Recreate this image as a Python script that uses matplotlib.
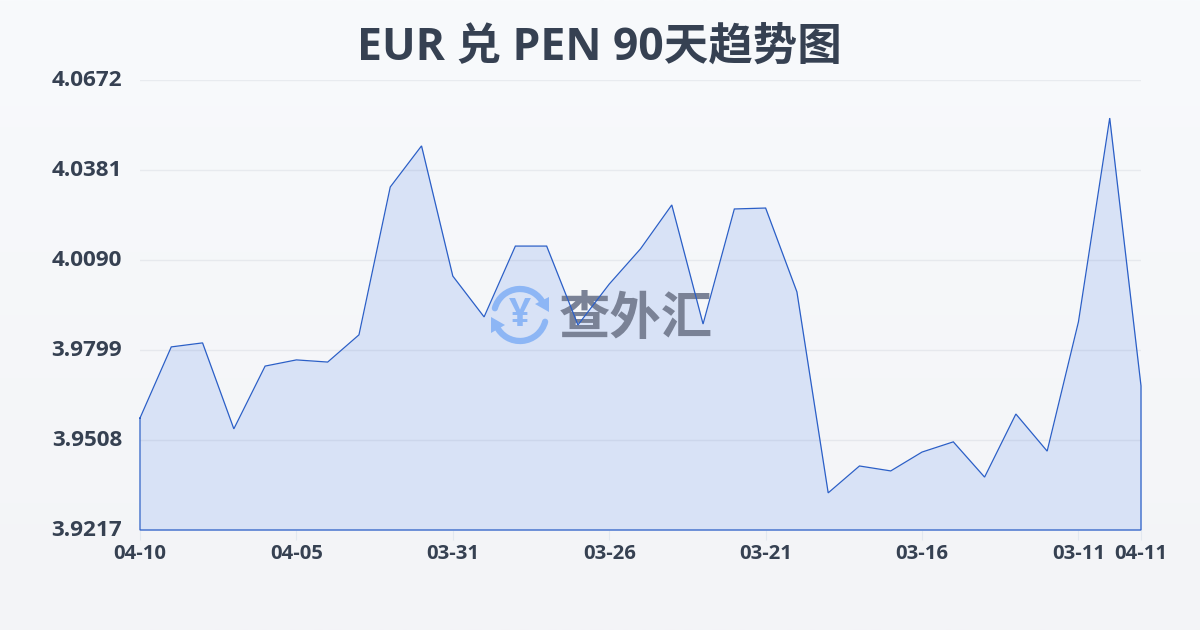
import numpy as np
import matplotlib
matplotlib.use('Agg')
import matplotlib.pyplot as plt
from matplotlib.patches import Arc, Polygon
from matplotlib.transforms import ScaledTranslation

plt.rcParams['font.family'] = ['Open Sans', 'Noto Sans CJK SC', 'DejaVu Sans']

# ----------------------------------------------------------------------
# data
# ----------------------------------------------------------------------

rates = [3.9579, 3.9809, 3.9822, 3.9544, 3.9747, 3.9767, 3.9760, 3.9848,
         4.0326, 4.0459, 4.0038, 3.9906, 4.0135, 4.0135, 3.9880, 4.0012,
         4.0126, 4.0268, 3.9883, 4.0255, 4.0258, 3.9987, 3.9337, 3.9424,
         3.9408, 3.9469, 3.9502, 3.9388, 3.9592, 3.9472, 3.9890, 4.0549,
         3.9683]
x_ticks = [0, 5, 10, 15, 20, 25, 30, 32]
x_labels = ['04-10', '04-05', '03-31', '03-26', '03-21', '03-16', '03-11', '04-11']
y_ticks = [3.9217, 3.9508, 3.9799, 4.0090, 4.0381, 4.0672]
title = 'EUR 兑 PEN 90天趋势图'

TEXT = '#364152'
LINE = '#2b5fc7'
W, H = 1200, 630

fig = plt.figure(figsize=(W / 100, H / 100), dpi=100)

# page background, soft vertical gradient
bg = fig.add_axes([0, 0, 1, 1], zorder=0)
bg.imshow(np.linspace(0, 1, 256).reshape(-1, 1), aspect='auto',
          cmap=matplotlib.colors.LinearSegmentedColormap.from_list('bg', ['#f8fafc', '#f3f4f7']))
bg.axis('off')

# ----------------------------------------------------------------------
# main chart
# ----------------------------------------------------------------------

pos = [140 / W, 1 - 530 / H, 1001 / W, 450 / H]
ax = fig.add_axes(pos, zorder=1)
ax.patch.set_alpha(0)
days = np.arange(len(rates))
ax.fill_between(days, rates, y_ticks[0], color='#d8e2f6', lw=0, zorder=2)
ax.grid(axis='y', color='#64748b', alpha=0.1, lw=1)
ax.set_axisbelow(False)

ax.set_xlim(0, len(rates) - 1)
ax.set_ylim(y_ticks[0], y_ticks[-1])
ax.set_xticks(x_ticks)
ax.set_xticklabels(x_labels, fontsize=14.6, fontweight='bold', color=TEXT)
ax.set_yticks(y_ticks)
ax.set_yticklabels([f'{v:.4f}' for v in y_ticks], fontsize=16.2, fontweight='bold', color=TEXT)
ax.tick_params(axis='x', length=7, width=0.8, color='#e2e8f0', pad=3)
ax.tick_params(axis='y', length=0, pad=13)
up = ScaledTranslation(0, 2 / 100, fig.dpi_scale_trans)
for lab in ax.get_yticklabels():
    lab.set_transform(lab.get_transform() + up)
for s in ax.spines.values():
    s.set_visible(False)

fig.text(599 / W, 1 - 48 / H, title, ha='center', va='center', fontsize=32,
         fontweight='bold', color=TEXT)

# ----------------------------------------------------------------------
# watermark logo, in pixel coordinates (sits over the fill, under the line)
# ----------------------------------------------------------------------

wm = fig.add_axes([0, 0, 1, 1], zorder=1.5)
wm.set_xlim(0, W)
wm.set_ylim(H, 0)
wm.axis('off')
wm.patch.set_alpha(0)
ICON = '#8db6f5'
cx, cy = 520, 315
wm.add_patch(Arc((cx, cy), 52, 52, theta1=195, theta2=335, color=ICON, lw=4.5, capstyle='round'))
wm.add_patch(Arc((cx, cy), 52, 52, theta1=15, theta2=155, color=ICON, lw=4.5, capstyle='round'))
wm.add_patch(Polygon([(549, 297), (549, 312), (535, 304)], color=ICON, lw=0))
wm.add_patch(Polygon([(491, 317), (491, 333), (505, 325)], color=ICON, lw=0))
wm.text(cx, cy + 1, '¥', ha='center', va='center', fontsize=28, fontweight='bold', color=ICON)
wm.text(636, 321, '查外汇', ha='center', va='center', fontsize=37, fontweight='bold', color='#7a8296')

# outline goes round the whole area, baseline and both sides too
top = fig.add_axes(pos, zorder=2)
top.patch.set_alpha(0)
top.axis('off')
top.set_xlim(0, len(rates) - 1)
top.set_ylim(y_ticks[0], y_ticks[-1])
ox = np.concatenate([days, [days[-1], 0, 0]])
oy = np.concatenate([rates, [y_ticks[0], y_ticks[0], rates[0]]])
top.plot(ox, oy, color=LINE, lw=0.9, clip_on=False, solid_joinstyle='miter')

fig.savefig('out.png', dpi=100)
